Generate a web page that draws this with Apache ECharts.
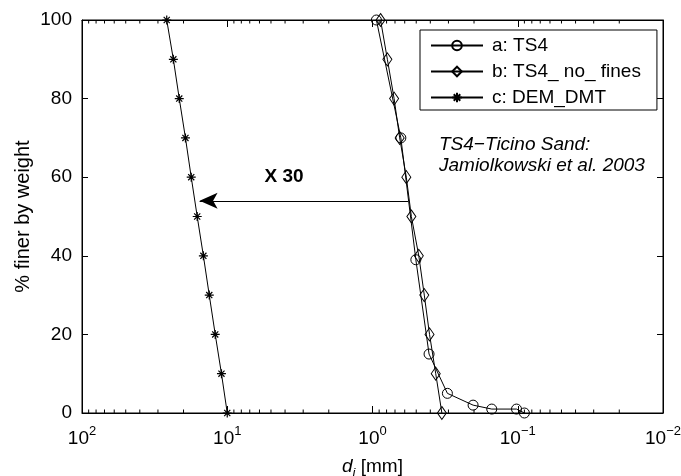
<!DOCTYPE html>
<html>
<head>
<meta charset="UTF-8">
<script src="https://cdn.jsdelivr.net/npm/echarts@6/dist/echarts.min.js"></script>
<style>
  html, body { margin: 0; padding: 0; background: #fff; }
  #chart { width: 681px; height: 476px; }
</style>
</head>
<body>
<div id="chart"></div>
<script>
// grain size curves (d in mm, % finer)
const ts4D = [0.94, 0.638, 0.503, 0.408, 0.305, 0.203, 0.151, 0.102, 0.09];
const ts4Pct = [100, 70, 39, 15, 5, 2, 1, 1, 0];

const noFinesD = [0.88, 0.79, 0.71, 0.65, 0.585, 0.54, 0.48, 0.44, 0.405, 0.367, 0.333];
const noFinesPct = [100, 90, 80, 70, 60, 50, 40, 30, 20, 10, 0];

const demD = [26.1, 23.5, 21.4, 19.4, 17.7, 16.1, 14.6, 13.3, 12.1, 10.96, 10.0];
const demPct = [100, 90, 80, 70, 60, 50, 40, 30, 20, 10, 0];

const names = ['a: TS4', 'b: TS4_ no_ fines', 'c: DEM_DMT'];

// arrow "X 30"
const arrowFrom = [0.569, 54];
const arrowTo = [15.5, 54];
const arrowLabelAt = [4.06, 60];

const FONT = 'Liberation Sans, Arial, Helvetica, sans-serif';
const starPath = 'path://M0,5L10,5M5,0L5,10M1.6,1.6L8.4,8.4M8.4,1.6L1.6,8.4';

function pairs(xs, ys) {
  return xs.map((x, i) => [x, ys[i]]);
}

// minor log ticks 2..9 in each decade, bottom and top
const minorTicks = [];
for (let k = -2; k < 2; k++) {
  for (let m = 2; m <= 9; m++) {
    minorTicks.push([m * Math.pow(10, k), 0]);
    minorTicks.push([m * Math.pow(10, k), 100]);
  }
}

const chart = echarts.init(document.getElementById('chart'));

const sup = { '-2': '\u22122', '-1': '\u22121', '0': '0', '1': '1', '2': '2' };

const xCommon = {
  type: 'log',
  logBase: 10,
  min: 0.01,
  max: 100,
  inverse: true,
  axisLine: { show: true, onZero: false, lineStyle: { color: '#000', width: 1 } },
  axisTick: { show: true, inside: true, length: 7, lineStyle: { color: '#000' } },
  splitLine: { show: false }
};

const option = {
  animation: false,
  textStyle: { fontFamily: FONT },
  grid: {
    left: 82, right: 18, top: 20, bottom: 63,
    outerBoundsMode: 'none',
    containLabel: false,
    show: true, borderColor: '#000', borderWidth: 1, backgroundColor: '#fff'
  },
  legend: {
    data: names,
    orient: 'vertical',
    left: 420,
    top: 30,
    align: 'left',
    itemWidth: 52,
    itemHeight: 12,
    itemGap: 7,
    padding: [6, 16, 3, 10],
    borderColor: '#000',
    borderWidth: 1,
    backgroundColor: '#fff',
    textStyle: { fontFamily: FONT, fontSize: 19, color: '#000', padding: [0, 0, 0, 4] }
  },
  xAxis: [
    Object.assign({}, xCommon, {
      position: 'bottom',
      name: '{d|d}{i|i}{n| [mm]}',
      nameLocation: 'middle',
      nameGap: 44,
      nameMoveOverlap: false,
      nameTextStyle: {
        color: '#000',
        rich: {
          d: { fontFamily: FONT, fontSize: 19, fontStyle: 'italic', color: '#000', verticalAlign: 'bottom' },
          i: { fontFamily: FONT, fontSize: 13, fontStyle: 'italic', color: '#000', verticalAlign: 'bottom', padding: [0, 0, -4, 0] },
          n: { fontFamily: FONT, fontSize: 19, color: '#000', verticalAlign: 'bottom' }
        }
      },
      axisLabel: {
        margin: 12,
        color: '#000',
        formatter: function (v) {
          const e = Math.round(Math.log10(v));
          return '{b|10}{s|' + sup[String(e)] + '}';
        },
        rich: {
          b: { fontFamily: FONT, fontSize: 19, color: '#000', verticalAlign: 'bottom' },
          s: { fontFamily: FONT, fontSize: 13, color: '#000', verticalAlign: 'bottom', padding: [0, 0, 10, 0] }
        }
      }
    }),
    Object.assign({}, xCommon, {
      position: 'top',
      axisLabel: { show: false }
    })
  ],
  yAxis: [
    {
      type: 'value',
      min: 0,
      max: 100,
      interval: 20,
      position: 'left',
      name: '% finer by weight',
      nameLocation: 'middle',
      nameGap: 49,
      nameMoveOverlap: false,
      nameRotate: 90,
      nameTextStyle: { fontFamily: FONT, fontSize: 20, color: '#000' },
      axisLine: { show: true, lineStyle: { color: '#000' } },
      axisTick: { show: true, inside: true, length: 6, lineStyle: { color: '#000' } },
      axisLabel: { color: '#000', fontFamily: FONT, fontSize: 19, margin: 10 },
      splitLine: { show: false }
    },
    {
      type: 'value',
      min: 0,
      max: 100,
      interval: 20,
      position: 'right',
      axisLine: { show: true, lineStyle: { color: '#000' } },
      axisTick: { show: true, inside: true, length: 6, lineStyle: { color: '#000' } },
      axisLabel: { show: false },
      splitLine: { show: false }
    }
  ],
  series: [
    {
      name: names[0],
      type: 'line',
      data: pairs(ts4D, ts4Pct),
      symbol: 'circle',
      symbolSize: 10,
      showAllSymbol: true,
      lineStyle: { color: '#000', width: 1 },
      itemStyle: { color: 'rgba(0,0,0,0)', borderColor: '#000', borderWidth: 1 },
      z: 3
    },
    {
      name: names[1],
      type: 'line',
      data: pairs(noFinesD, noFinesPct),
      symbol: 'diamond',
      symbolSize: [9, 13],
      showAllSymbol: true,
      lineStyle: { color: '#000', width: 1 },
      itemStyle: { color: 'rgba(0,0,0,0)', borderColor: '#000', borderWidth: 1 },
      z: 3
    },
    {
      name: names[2],
      type: 'line',
      data: pairs(demD, demPct),
      symbol: starPath,
      symbolSize: 9,
      showAllSymbol: true,
      lineStyle: { color: '#000', width: 1 },
      itemStyle: { color: 'rgba(0,0,0,0)', borderColor: '#000', borderWidth: 1.2 },
      z: 3,
      markLine: {
        silent: true,
        symbol: ['none', 'arrow'],
        symbolSize: [12, 18],
        label: { show: false },
        lineStyle: { color: '#000', width: 1, type: 'solid' },
        data: [[{ coord: arrowFrom }, { coord: arrowTo }]]
      },
      markPoint: {
        silent: true,
        symbol: 'circle',
        symbolSize: 1,
        itemStyle: { color: 'rgba(0,0,0,0)' },
        label: {
          show: true,
          position: 'inside',
          formatter: 'X 30',
          fontFamily: FONT,
          fontSize: 19,
          fontWeight: 'bold',
          color: '#000'
        },
        data: [{ coord: arrowLabelAt }]
      }
    },
    {
      type: 'custom',
      silent: true,
      clip: false,
      data: minorTicks,
      renderItem: function (params, api) {
        const p = api.coord([api.value(0), api.value(1)]);
        const dir = api.value(1) === 0 ? -1 : 1;
        return {
          type: 'line',
          shape: { x1: p[0], y1: p[1], x2: p[0], y2: p[1] + dir * 3.5 },
          style: { stroke: '#000', lineWidth: 1 }
        };
      },
      z: 4
    }
  ],
  graphic: [
    {
      type: 'text',
      left: 439,
      top: 134,
      style: {
        text: 'TS4\u2212Ticino Sand:\nJamiolkowski et al. 2003',
        fontFamily: FONT,
        fontSize: 19,
        fontStyle: 'italic',
        lineHeight: 21,
        fill: '#000'
      }
    }
  ]
};

chart.setOption(option);
</script>
</body>
</html>
